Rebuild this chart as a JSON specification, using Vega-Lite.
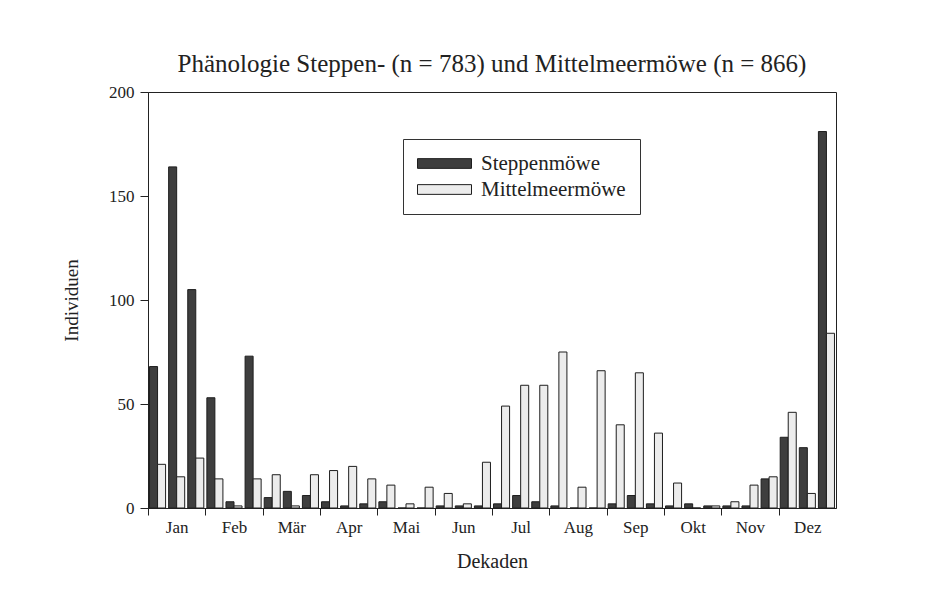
{
  "$schema": "https://vega.github.io/schema/vega-lite/v6.json",
  "width": 688,
  "height": 416,
  "autosize": {"type": "none"},
  "padding": {"left": 148, "top": 92, "right": 92, "bottom": 106},
  "background": "white",
  "title": {
    "text": "Phänologie Steppen- (n = 783) und Mittelmeermöwe (n = 866)",
    "font": "Liberation Serif",
    "fontSize": 25,
    "fontWeight": "normal",
    "color": "#222",
    "anchor": "middle",
    "frame": "group",
    "offset": 6
  },
  "data": {
    "values": [
      {"Dekade": "Jan 1", "Art": "Steppenmöwe", "Individuen": 68},
      {"Dekade": "Jan 1", "Art": "Mittelmeermöwe", "Individuen": 21},
      {"Dekade": "Jan 2", "Art": "Steppenmöwe", "Individuen": 164},
      {"Dekade": "Jan 2", "Art": "Mittelmeermöwe", "Individuen": 15},
      {"Dekade": "Jan 3", "Art": "Steppenmöwe", "Individuen": 105},
      {"Dekade": "Jan 3", "Art": "Mittelmeermöwe", "Individuen": 24},
      {"Dekade": "Feb 1", "Art": "Steppenmöwe", "Individuen": 53},
      {"Dekade": "Feb 1", "Art": "Mittelmeermöwe", "Individuen": 14},
      {"Dekade": "Feb 2", "Art": "Steppenmöwe", "Individuen": 3},
      {"Dekade": "Feb 2", "Art": "Mittelmeermöwe", "Individuen": 1},
      {"Dekade": "Feb 3", "Art": "Steppenmöwe", "Individuen": 73},
      {"Dekade": "Feb 3", "Art": "Mittelmeermöwe", "Individuen": 14},
      {"Dekade": "Mär 1", "Art": "Steppenmöwe", "Individuen": 5},
      {"Dekade": "Mär 1", "Art": "Mittelmeermöwe", "Individuen": 16},
      {"Dekade": "Mär 2", "Art": "Steppenmöwe", "Individuen": 8},
      {"Dekade": "Mär 2", "Art": "Mittelmeermöwe", "Individuen": 1},
      {"Dekade": "Mär 3", "Art": "Steppenmöwe", "Individuen": 6},
      {"Dekade": "Mär 3", "Art": "Mittelmeermöwe", "Individuen": 16},
      {"Dekade": "Apr 1", "Art": "Steppenmöwe", "Individuen": 3},
      {"Dekade": "Apr 1", "Art": "Mittelmeermöwe", "Individuen": 18},
      {"Dekade": "Apr 2", "Art": "Steppenmöwe", "Individuen": 1},
      {"Dekade": "Apr 2", "Art": "Mittelmeermöwe", "Individuen": 20},
      {"Dekade": "Apr 3", "Art": "Steppenmöwe", "Individuen": 2},
      {"Dekade": "Apr 3", "Art": "Mittelmeermöwe", "Individuen": 14},
      {"Dekade": "Mai 1", "Art": "Steppenmöwe", "Individuen": 3},
      {"Dekade": "Mai 1", "Art": "Mittelmeermöwe", "Individuen": 11},
      {"Dekade": "Mai 2", "Art": "Steppenmöwe", "Individuen": 0},
      {"Dekade": "Mai 2", "Art": "Mittelmeermöwe", "Individuen": 2},
      {"Dekade": "Mai 3", "Art": "Steppenmöwe", "Individuen": 0},
      {"Dekade": "Mai 3", "Art": "Mittelmeermöwe", "Individuen": 10},
      {"Dekade": "Jun 1", "Art": "Steppenmöwe", "Individuen": 1},
      {"Dekade": "Jun 1", "Art": "Mittelmeermöwe", "Individuen": 7},
      {"Dekade": "Jun 2", "Art": "Steppenmöwe", "Individuen": 1},
      {"Dekade": "Jun 2", "Art": "Mittelmeermöwe", "Individuen": 2},
      {"Dekade": "Jun 3", "Art": "Steppenmöwe", "Individuen": 1},
      {"Dekade": "Jun 3", "Art": "Mittelmeermöwe", "Individuen": 22},
      {"Dekade": "Jul 1", "Art": "Steppenmöwe", "Individuen": 2},
      {"Dekade": "Jul 1", "Art": "Mittelmeermöwe", "Individuen": 49},
      {"Dekade": "Jul 2", "Art": "Steppenmöwe", "Individuen": 6},
      {"Dekade": "Jul 2", "Art": "Mittelmeermöwe", "Individuen": 59},
      {"Dekade": "Jul 3", "Art": "Steppenmöwe", "Individuen": 3},
      {"Dekade": "Jul 3", "Art": "Mittelmeermöwe", "Individuen": 59},
      {"Dekade": "Aug 1", "Art": "Steppenmöwe", "Individuen": 1},
      {"Dekade": "Aug 1", "Art": "Mittelmeermöwe", "Individuen": 75},
      {"Dekade": "Aug 2", "Art": "Steppenmöwe", "Individuen": 0},
      {"Dekade": "Aug 2", "Art": "Mittelmeermöwe", "Individuen": 10},
      {"Dekade": "Aug 3", "Art": "Steppenmöwe", "Individuen": 0},
      {"Dekade": "Aug 3", "Art": "Mittelmeermöwe", "Individuen": 66},
      {"Dekade": "Sep 1", "Art": "Steppenmöwe", "Individuen": 2},
      {"Dekade": "Sep 1", "Art": "Mittelmeermöwe", "Individuen": 40},
      {"Dekade": "Sep 2", "Art": "Steppenmöwe", "Individuen": 6},
      {"Dekade": "Sep 2", "Art": "Mittelmeermöwe", "Individuen": 65},
      {"Dekade": "Sep 3", "Art": "Steppenmöwe", "Individuen": 2},
      {"Dekade": "Sep 3", "Art": "Mittelmeermöwe", "Individuen": 36},
      {"Dekade": "Okt 1", "Art": "Steppenmöwe", "Individuen": 1},
      {"Dekade": "Okt 1", "Art": "Mittelmeermöwe", "Individuen": 12},
      {"Dekade": "Okt 2", "Art": "Steppenmöwe", "Individuen": 2},
      {"Dekade": "Okt 2", "Art": "Mittelmeermöwe", "Individuen": 0},
      {"Dekade": "Okt 3", "Art": "Steppenmöwe", "Individuen": 1},
      {"Dekade": "Okt 3", "Art": "Mittelmeermöwe", "Individuen": 1},
      {"Dekade": "Nov 1", "Art": "Steppenmöwe", "Individuen": 1},
      {"Dekade": "Nov 1", "Art": "Mittelmeermöwe", "Individuen": 3},
      {"Dekade": "Nov 2", "Art": "Steppenmöwe", "Individuen": 1},
      {"Dekade": "Nov 2", "Art": "Mittelmeermöwe", "Individuen": 11},
      {"Dekade": "Nov 3", "Art": "Steppenmöwe", "Individuen": 14},
      {"Dekade": "Nov 3", "Art": "Mittelmeermöwe", "Individuen": 15},
      {"Dekade": "Dez 1", "Art": "Steppenmöwe", "Individuen": 34},
      {"Dekade": "Dez 1", "Art": "Mittelmeermöwe", "Individuen": 46},
      {"Dekade": "Dez 2", "Art": "Steppenmöwe", "Individuen": 29},
      {"Dekade": "Dez 2", "Art": "Mittelmeermöwe", "Individuen": 7},
      {"Dekade": "Dez 3", "Art": "Steppenmöwe", "Individuen": 181},
      {"Dekade": "Dez 3", "Art": "Mittelmeermöwe", "Individuen": 84}
    ]
  },
  "mark": {"type": "bar", "stroke": "#1e1e1e", "strokeWidth": 1},
  "encoding": {
    "x": {
      "field": "Dekade",
      "type": "ordinal",
      "sort": null,
      "scale": {"paddingInner": 0.16, "paddingOuter": 0.08},
      "axis": {
        "title": "Dekaden",
        "values": ["Jan 1", "Feb 1", "Mär 1", "Apr 1", "Mai 1", "Jun 1", "Jul 1", "Aug 1", "Sep 1", "Okt 1", "Nov 1", "Dez 1"],
        "labelExpr": "isString(datum.value) ? substring(datum.value, 0, 3) : ''",
        "labelAngle": 0,
        "bandPosition": 0,
        "tickExtra": false,
        "tickOffset": -1.53,
        "labelOffset": 20.6,
        "tickSize": 7,
        "labelPadding": 4,
        "titlePadding": 16,
        "titleFontSize": 20
      }
    },
    "xOffset": {
      "field": "Art",
      "type": "nominal",
      "sort": ["Steppenmöwe", "Mittelmeermöwe"]
    },
    "y": {
      "field": "Individuen",
      "type": "quantitative",
      "scale": {"domain": [0, 200], "nice": false},
      "axis": {
        "title": "Individuen",
        "values": [0, 50, 100, 150, 200],
        "grid": false,
        "tickSize": 8,
        "labelPadding": 6,
        "titlePadding": 27
      }
    },
    "color": {
      "field": "Art",
      "type": "nominal",
      "sort": ["Steppenmöwe", "Mittelmeermöwe"],
      "scale": {"domain": ["Steppenmöwe", "Mittelmeermöwe"], "range": ["#3e3e3e", "#ececec"]},
      "legend": {
        "title": null,
        "orient": "none",
        "legendX": 255,
        "legendY": 47,
        "direction": "vertical",
        "padding": 14,
        "rowPadding": 4,
        "strokeColor": "#333",
        "fillColor": "white",
        "symbolType": "M-4,-0.72H4V0.72H-4Z",
        "symbolSize": 182.25,
        "symbolOffset": 17,
        "symbolStrokeColor": "#1e1e1e",
        "symbolStrokeWidth": 1,
        "symbolOpacity": 1,
        "labelFont": "Liberation Serif",
        "labelFontSize": 21,
        "labelColor": "#222",
        "labelOffset": 26
      }
    }
  },
  "config": {
    "view": {"stroke": "#222", "strokeWidth": 1},
    "axis": {
      "domainColor": "#222",
      "tickColor": "#222",
      "labelFont": "Liberation Serif",
      "labelFontSize": 17,
      "labelColor": "#222",
      "titleFont": "Liberation Serif",
      "titleFontSize": 19,
      "titleFontWeight": "normal",
      "titleColor": "#222"
    },
    "bar": {"opacity": 1}
  }
}
